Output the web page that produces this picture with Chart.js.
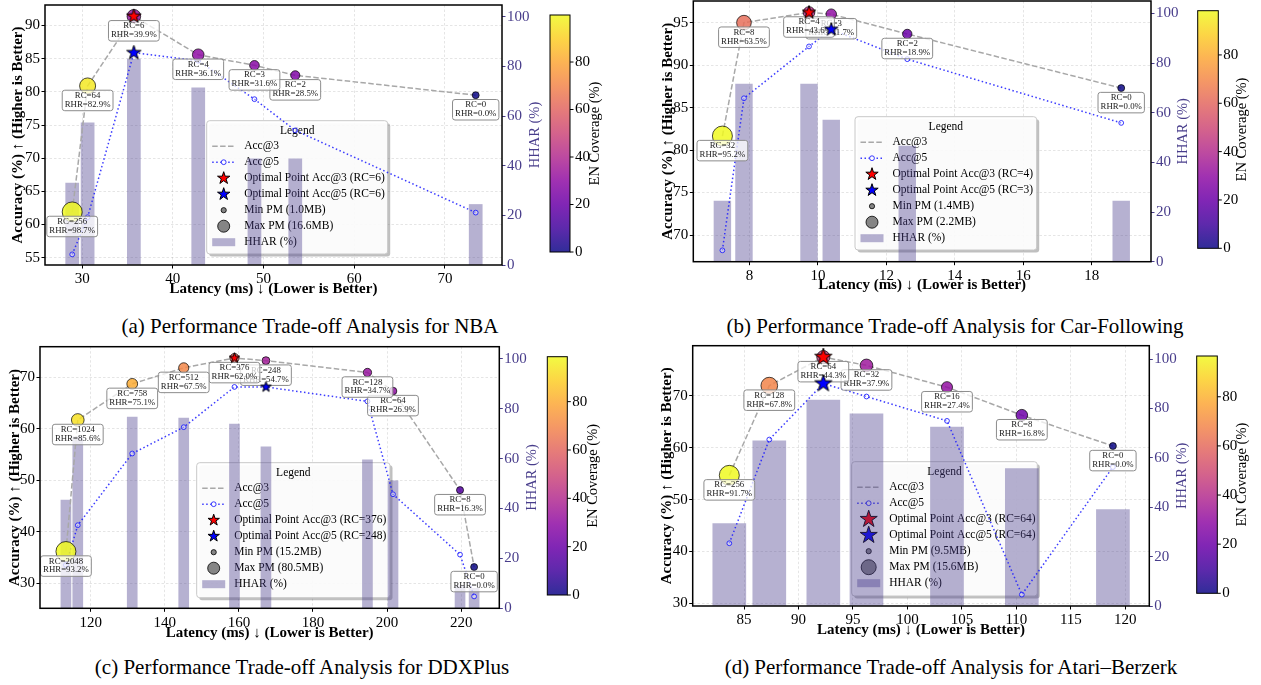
<!DOCTYPE html>
<html>
<head>
<meta charset="utf-8">
<title>Performance Trade-off Analysis</title>
<script src="https://cdn.jsdelivr.net/npm/chart.js@4.4.1/dist/chart.umd.min.js"></script>
<style>
  body { margin: 0; background: #fff; }
  #page { position: relative; width: 1261px; height: 685px; overflow: hidden; font-family: "Liberation Serif", "Times New Roman", serif; }
  canvas { position: absolute; }
  .caption { position: absolute; font-size: 21px; line-height: 24px; white-space: nowrap; transform: translateX(-50%); color: #000; }
</style>
</head>
<body>
<div id="page">
  <canvas id="chartA" width="630" height="310" style="left:0;top:0"></canvas>
  <canvas id="chartB" width="621" height="310" style="left:640px;top:0"></canvas>
  <canvas id="chartC" width="630" height="310" style="left:0;top:340px"></canvas>
  <canvas id="chartD" width="621" height="310" style="left:640px;top:340px"></canvas>
  <div class="caption" style="left:310px;top:314px">(a) Performance Trade-off Analysis for NBA</div>
  <div class="caption" style="left:955px;top:314px">(b) Performance Trade-off Analysis for Car-Following</div>
  <div class="caption" style="left:302px;top:655px">(c) Performance Trade-off Analysis for DDXPlus</div>
  <div class="caption" style="left:951px;top:655px">(d) Performance Trade-off Analysis for Atari–Berzerk</div>
</div>
<script>
const FONT = "'Liberation Serif', 'Times New Roman', serif";
Chart.defaults.font.family = FONT;
Chart.defaults.color = '#000';

// (a) NBA
const nbaRC = [256, 64, 6, 4, 3, 2, 0];
const nbaRHR = [98.7, 82.9, 39.9, 36.1, 31.6, 28.5, 0.0];
const nbaLatency = [28.9, 30.6, 35.7, 42.8, 49.0, 53.5, 73.4];
const nbaAcc3 = [61.9, 80.9, 91.4, 85.6, 84.0, 82.5, 79.5];
const nbaAcc5 = [55.5, 61.1, 85.9, 84.7, 78.9, 74.2, 61.8];
const nbaHHAR = [33, 57.3, 83, 71.4, 42.8, 42.8, 24.4];
const nbaEN = [99.8, 96, 33, 30, 28, 26, 0];
const nbaPM = [16.6, 10.2, 7.1, 4.9, 3.0, 2.6, 1.0];
const nbaXTicks = [30, 40, 50, 60, 70];
const nbaAccTicks = [55, 60, 65, 70, 75, 80, 85, 90];

// (b) Car-Following
const carRC = [32, 8, 4, 3, 2, 0];
const carRHR = [95.2, 63.5, 43.6, 31.7, 18.9, 0.0];
const carLatency = [7.21, 7.84, 9.74, 10.39, 12.61, 18.86];
const carAcc3 = [81.65, 95.0, 96.2, 96.0, 93.67, 87.3];
const carAcc5 = [68.2, 86.1, 92.2, 94.2, 90.7, 83.2];
const carHHAR = [24.4, 71.5, 71.5, 57.0, 46.6, 24.4];
const carEN = [98.3, 62, 42, 30, 20, 0];
const carPM = [2.2, 1.78, 1.6, 1.54, 1.49, 1.4];
const carXTicks = [8, 10, 12, 14, 16, 18];
const carAccTicks = [70, 75, 80, 85, 90, 95];

// (c) DDXPlus
const ddxRC = [2048, 1024, 758, 512, 376, 248, 128, 64, 8, 0];
const ddxRHR = [93.2, 85.6, 75.1, 67.5, 62.0, 54.7, 34.7, 26.9, 16.3, 0.0];
const ddxLatency = [113.3, 116.5, 131.2, 145.1, 158.8, 167.3, 194.7, 201.6, 219.7, 223.5];
const ddxAcc3 = [36.2, 61.7, 68.7, 71.8, 73.7, 73.2, 70.9, 67.3, 48.1, 33.2];
const ddxAcc5 = [33.6, 41.3, 55.2, 60.3, 68.1, 68.1, 65.3, 47.3, 35.6, 27.5];
const ddxHHAR = [43.4, 68.8, 76.7, 76.3, 73.9, 64.7, 59.5, 51.1, 9, 8];
const ddxEN = [98.6, 93, 80, 70, 60, 35, 32, 30, 15, 0];
const ddxPM = [80.5, 36.1, 27.8, 25.5, 22, 17.8, 19.2, 17.2, 15.5, 15.2];
const ddxXTicks = [120, 140, 160, 180, 200, 220];
const ddxAccTicks = [30, 40, 50, 60, 70];

// (d) Atari-Berzerk
const atariRC = [256, 128, 64, 32, 16, 8, 0];
const atariRHR = [91.7, 67.8, 44.3, 37.9, 27.4, 16.8, 0.0];
const atariLatency = [83.65, 87.32, 92.28, 96.24, 103.63, 110.5, 118.86];
const atariAcc3 = [54.7, 72.0, 77.5, 75.9, 71.7, 66.3, 60.35];
const atariAcc5 = [41.6, 61.6, 72.4, 69.9, 65.2, 31.7, 56.3];
const atariHHAR = [33.4, 66.9, 83.4, 77.8, 72.4, 55.6, 39.0];
const atariEN = [96.6, 68, 45, 33, 30, 20, 0];
const atariPM = [15.6, 13.5, 11.65, 11.45, 10.8, 11.0, 9.5];
const atariXTicks = [85, 90, 95, 100, 105, 110, 115, 120];
const atariAccTicks = [30, 40, 50, 60, 70];

const hharTicks = [0, 20, 40, 60, 80, 100];
const enTicks = [0, 20, 40, 60, 80];

const HHAR_COLOR = '#483d8b';
const BAR_FILL = 'rgba(72, 61, 139, 0.4)';
const GRID = 'rgba(0, 0, 0, 0.13)';
const PLASMA = [[13,8,135],[65,4,157],[106,0,168],[143,13,164],[177,42,144],[204,71,120],
                [225,100,98],[242,132,75],[252,166,54],[252,206,37],[240,249,33]];

function plasma(t, a) {
  t = Math.min(1, Math.max(0, t)) * 10;
  const i = Math.min(9, Math.floor(t)), f = t - i;
  const c = PLASMA[i].map((v, k) => Math.round(v + (PLASMA[i + 1][k] - v) * f));
  return 'rgba(' + c.join(',') + ',' + (a === undefined ? 1 : a) + ')';
}

function roundRect(ctx, x, y, w, h, r) {
  ctx.beginPath();
  ctx.moveTo(x + r, y);
  ctx.arcTo(x + w, y, x + w, y + h, r);
  ctx.arcTo(x + w, y + h, x, y + h, r);
  ctx.arcTo(x, y + h, x, y, r);
  ctx.arcTo(x, y, x + w, y, r);
  ctx.closePath();
}

function drawStar(ctx, cx, cy, r, fill) {
  ctx.beginPath();
  for (let k = 0; k < 10; k++) {
    const rr = k % 2 ? r * 0.382 : r;
    const ang = -Math.PI / 2 + k * Math.PI / 5;
    ctx.lineTo(cx + rr * Math.cos(ang), cy + rr * Math.sin(ang));
  }
  ctx.closePath();
  ctx.fillStyle = fill;
  ctx.fill();
  ctx.strokeStyle = '#000';
  ctx.lineWidth = 1;
  ctx.stroke();
}

function starImage(fill, r) {
  const c = document.createElement('canvas');
  c.width = c.height = Math.ceil(2 * r + 6);
  drawStar(c.getContext('2d'), c.width / 2, c.height / 2, r, fill);
  return c;
}

function drawLegend(ctx, d, L) {
  const [x, y, w, h] = L.legend;
  const pmMin = Math.min(...d.pm), pmMax = Math.max(...d.pm);
  ctx.save();
  roundRect(ctx, x + 2.5, y + 2.5, w, h, 3);
  ctx.fillStyle = 'rgba(0,0,0,0.25)';
  ctx.fill();
  roundRect(ctx, x, y, w, h, 3);
  ctx.fillStyle = 'rgba(255,255,255,0.93)';
  ctx.fill();
  ctx.strokeStyle = '#c8c8c8';
  ctx.lineWidth = 1;
  ctx.stroke();

  ctx.font = '11.5px ' + FONT;
  ctx.textBaseline = 'middle';
  ctx.fillStyle = '#000';
  ctx.textAlign = 'center';
  ctx.fillText('Legend', x + w / 2, y + 10);
  ctx.textAlign = 'left';

  const h0 = x + 5.5, h1 = x + 28.5, hc = (h0 + h1) / 2, tx = x + 37.5;
  const labels = ['Acc@3', 'Acc@5',
    'Optimal Point Acc@3 (RC=' + d.rc[d.opt3] + ')',
    'Optimal Point Acc@5 (RC=' + d.rc[d.opt5] + ')',
    'Min PM (' + pmMin.toFixed(1) + 'MB)',
    'Max PM (' + pmMax.toFixed(1) + 'MB)',
    'HHAR (%)'];
  labels.forEach((t, k) => {
    const yy = y + 25.5 + k * 16;
    ctx.fillStyle = '#000';
    ctx.fillText(t, tx, yy);
    ctx.save();
    if (k === 0 || k === 1) {
      ctx.beginPath();
      ctx.moveTo(h0, yy); ctx.lineTo(h1, yy);
      ctx.lineWidth = 1.5;
      ctx.strokeStyle = k === 0 ? '#a8a8a8' : 'rgba(25,25,255,0.85)';
      ctx.setLineDash(k === 0 ? [5.5, 2.4] : [1.5, 2.5]);
      ctx.stroke();
      if (k === 1) {
        ctx.setLineDash([]);
        ctx.beginPath(); ctx.arc(hc, yy, 2.4, 0, Math.PI * 2);
        ctx.fillStyle = '#fff'; ctx.fill(); ctx.lineWidth = 1; ctx.stroke();
      }
    } else if (k === 2 || k === 3) {
      drawStar(ctx, hc, yy, L.legStar, k === 2 ? '#ff0000' : '#0000ff');
    } else if (k === 4 || k === 5) {
      ctx.beginPath(); ctx.arc(hc, yy, k === 4 ? 2.6 : L.legMaxR, 0, Math.PI * 2);
      ctx.fillStyle = 'rgba(120,120,120,0.9)'; ctx.fill();
      ctx.strokeStyle = 'rgba(0,0,0,0.8)'; ctx.lineWidth = 1; ctx.stroke();
    } else {
      ctx.fillStyle = BAR_FILL;
      ctx.fillRect(h0, yy - 4, h1 - h0, 8);
    }
    ctx.restore();
  });
  ctx.restore();
}

// RC/RHR boxes, lowest RC drawn first so higher RC boxes sit on top
function drawNotes(chart, d) {
  const { ctx, scales } = chart;
  ctx.save();
  ctx.font = '8.8px ' + FONT;
  ctx.textAlign = 'center';
  ctx.textBaseline = 'middle';
  for (let i = d.latency.length - 1; i >= 0; i--) {
    const px = scales.x.getPixelForValue(d.latency[i]), py = scales.y.getPixelForValue(d.acc3[i]);
    const l1 = 'RC=' + d.rc[i], l2 = 'RHR=' + d.rhr[i].toFixed(1) + '%';
    const bw = Math.max(ctx.measureText(l1).width, ctx.measureText(l2).width) + 5;
    roundRect(ctx, px - bw / 2, py + 4.3, bw, 20.5, 2.5);
    ctx.fillStyle = 'rgba(255,255,255,0.75)';
    ctx.fill();
    ctx.strokeStyle = '#8c8c8c';
    ctx.lineWidth = 1;
    ctx.stroke();
    ctx.fillStyle = '#222';
    ctx.fillText(l1, px, py + 9.7);
    ctx.fillText(l2, px, py + 18.6);
  }
  ctx.restore();
}

function drawSide(chart, d, L) {
  const { ctx, chartArea: a } = chart;
  ctx.save();
  ctx.font = '14.5px ' + FONT;
  ctx.textAlign = 'center';
  ctx.textBaseline = 'middle';
  ctx.fillStyle = HHAR_COLOR;
  ctx.translate(L.y2TitleX, (a.top + a.bottom) / 2);
  ctx.rotate(-Math.PI / 2);
  ctx.fillText('HHAR (%)', 0, 0);
  ctx.restore();

  // colorbar for EN coverage
  const [x0, x1, y0, y1] = L.cbar;
  const enMax = Math.max(...d.en);
  ctx.save();
  const g = ctx.createLinearGradient(0, y1, 0, y0);
  for (let k = 0; k <= 10; k++) g.addColorStop(k / 10, plasma(k / 10, 0.85));
  ctx.fillStyle = g;
  ctx.fillRect(x0, y0, x1 - x0, y1 - y0);
  ctx.strokeStyle = '#000';
  ctx.lineWidth = 1;
  ctx.strokeRect(x0, y0, x1 - x0, y1 - y0);
  ctx.font = '15px ' + FONT;
  ctx.fillStyle = '#000';
  ctx.textAlign = 'left';
  ctx.textBaseline = 'middle';
  enTicks.forEach(v => {
    const yy = y1 - (y1 - y0) * v / enMax;
    ctx.beginPath(); ctx.moveTo(x1, yy); ctx.lineTo(x1 + 3.5, yy); ctx.stroke();
    ctx.fillText(String(v), x1 + 5, yy);
  });
  ctx.font = '14.5px ' + FONT;
  ctx.textAlign = 'center';
  ctx.translate(L.cbLabelX, (y0 + y1) / 2);
  ctx.rotate(-Math.PI / 2);
  ctx.fillText('EN Coverage (%)', 0, 0);
  ctx.restore();
}

function makePanel(id, d, L) {
  const enMax = Math.max(...d.en);
  const pmMin = Math.min(...d.pm), pmMax = Math.max(...d.pm);
  const radius = d.pm.map(p => Math.sqrt(12 + 88 * (p - pmMin) / (pmMax - pmMin)));
  const pts = ys => d.latency.map((x, i) => ({ x: x, y: ys[i] }));
  const fixedTicks = vals => s => { s.ticks = vals.map(v => ({ value: v })); };
  const gridOpts = { color: GRID, lineWidth: 0.8, tickLength: 3.5, tickColor: '#000', tickWidth: 1, tickBorderDash: [] };

  const chart = new Chart(document.getElementById(id), {
    type: 'line',
    data: {
      datasets: [
        { type: 'bar', yAxisID: 'y2', data: pts(d.hhar), backgroundColor: BAR_FILL, barThickness: 10, order: 6 },
        { type: 'line', data: pts(d.acc3), borderColor: '#a8a8a8', borderWidth: 1.5, borderDash: [5.5, 2.4],
          pointRadius: 0, showLine: true, order: 4 },
        { type: 'line', data: pts(d.acc5), borderColor: 'rgba(25,25,255,0.85)', borderWidth: 1.5, borderDash: [1.5, 2.5],
          pointRadius: 2.4, pointBorderWidth: 1, pointBorderColor: 'rgba(25,25,255,0.85)',
          pointBackgroundColor: 'rgba(255,255,255,0.4)', showLine: true, order: 3 },
        { type: 'scatter', data: pts(d.acc3), pointRadius: radius,
          pointBackgroundColor: d.en.map(e => plasma(e / enMax, 0.85)),
          pointBorderColor: 'rgba(0,0,0,0.7)', pointBorderWidth: 1, clip: false, order: 2 },
        { type: 'scatter', data: [{ x: d.latency[d.opt3], y: d.acc3[d.opt3] }],
          pointStyle: starImage('#ff0000', L.star), clip: false, order: 1 },
        { type: 'scatter', data: [{ x: d.latency[d.opt5], y: d.acc5[d.opt5] }],
          pointStyle: starImage('#0000ff', L.star), clip: false, order: 0 }
      ]
    },
    options: {
      responsive: false,
      animation: false,
      events: [],
      layout: { autoPadding: false, padding: { left: 0, top: L.top, right: L.w - L.right - 45, bottom: 0 } },
      plugins: { legend: { display: false }, tooltip: { enabled: false } },
      scales: {
        x: {
          type: 'linear', position: 'bottom', min: L.xMin, max: L.xMax, offset: false,
          afterBuildTicks: fixedTicks(d.xTicks),
          afterFit: s => { s.height = L.h - L.bottom; s.paddingLeft = 0; s.paddingRight = 0; },
          grid: Object.assign({ offset: false }, gridOpts),
          border: { display: false, dash: [2.5, 2] },
          ticks: { font: { size: 15 }, padding: 2, autoSkip: false, maxRotation: 0 },
          title: { display: true, text: 'Latency (ms) ↓ (Lower is Better)',
                   font: { size: 15, weight: 'bold' }, padding: { top: 0, bottom: L.xTitleP } }
        },
        y: {
          type: 'linear', position: 'left', min: L.yMin, max: L.yMax,
          afterBuildTicks: fixedTicks(d.accTicks),
          afterFit: s => { s.width = L.left; s.paddingTop = 0; s.paddingBottom = 0; },
          grid: gridOpts,
          border: { display: false, dash: [2.5, 2] },
          ticks: { font: { size: 15 }, padding: 1.5, autoSkip: false },
          title: { display: true, text: 'Accuracy (%) ↑ (Higher is Better)',
                   font: { size: 15, weight: 'bold' }, padding: { top: L.yTitleP, bottom: 0 } }
        },
        y2: {
          type: 'linear', position: 'right', min: 0, max: L.y2Max,
          afterBuildTicks: fixedTicks(hharTicks),
          afterFit: s => { s.width = 45; s.paddingTop = 0; s.paddingBottom = 0; },
          grid: { drawOnChartArea: false, tickLength: 3.5, tickColor: HHAR_COLOR, tickWidth: 1, tickBorderDash: [] },
          border: { display: false },
          ticks: { font: { size: 15 }, color: HHAR_COLOR, padding: 1.5, autoSkip: false }
        }
      }
    },
    plugins: [{
      id: 'panelExtras',
      beforeDatasetsDraw(c) { drawLegend(c.ctx, d, L); },
      afterDatasetDraw(c, args) { if (args.index === 3) drawNotes(c, d); },
      afterDatasetsDraw(c) {
        const a = c.chartArea;
        c.ctx.save();
        c.ctx.strokeStyle = '#000';
        c.ctx.lineWidth = 1.5;
        c.ctx.strokeRect(a.left, a.top, a.right - a.left, a.bottom - a.top);
        c.ctx.restore();
      },
      afterDraw(c) { drawSide(c, d, L); }
    }]
  });

  // bar width is given in ms, convert through the x scale
  const xs = chart.scales.x;
  chart.data.datasets[0].barThickness = Math.abs(xs.getPixelForValue(L.barW) - xs.getPixelForValue(0));
  chart.update();
  return chart;
}

makePanel('chartA',
  { rc: nbaRC, rhr: nbaRHR, latency: nbaLatency, acc3: nbaAcc3, acc5: nbaAcc5, hhar: nbaHHAR, en: nbaEN, pm: nbaPM,
    opt3: 2, opt5: 2, xTicks: nbaXTicks, accTicks: nbaAccTicks },
  { w: 630, h: 310, left: 45, right: 502, top: 5, bottom: 265, xMin: 25.9, xMax: 76.3, yMin: 53.9, yMax: 93.1,
    y2Max: 104.8, yTitleP: 9, xTitleP: 12, y2TitleX: 535, legend: [206.7, 120.7, 181, 133.3],
    cbar: [550, 570, 15, 252], cbLabelX: 595, star: 7.5, legStar: 6.5, legMaxR: 6, barW: 1.44 });

makePanel('chartB',
  { rc: carRC, rhr: carRHR, latency: carLatency, acc3: carAcc3, acc5: carAcc5, hhar: carHHAR, en: carEN, pm: carPM,
    opt3: 2, opt5: 3, xTicks: carXTicks, accTicks: carAccTicks },
  { w: 621, h: 310, left: 53.3, right: 511, top: 1, bottom: 261.7, xMin: 6.36, xMax: 19.73, yMin: 66.86, yMax: 97.55,
    y2Max: 105, yTitleP: 19.3, xTitleP: 16, y2TitleX: 542.7, legend: [215, 116.7, 181.7, 133.3],
    cbar: [557.7, 578.3, 10.7, 248.3], cbLabelX: 601.7, star: 7, legStar: 6.5, legMaxR: 6, barW: 0.49 });

makePanel('chartC',
  { rc: ddxRC, rhr: ddxRHR, latency: ddxLatency, acc3: ddxAcc3, acc5: ddxAcc5, hhar: ddxHHAR, en: ddxEN, pm: ddxPM,
    opt3: 4, opt5: 5, xTicks: ddxXTicks, accTicks: ddxAccTicks },
  { w: 630, h: 310, left: 40, right: 499.3, top: 6.7, bottom: 268.3, xMin: 106.3, xMax: 230.3, yMin: 25.2, yMax: 75.9,
    y2Max: 104.9, yTitleP: 6, xTitleP: 7.7, y2TitleX: 531.7, legend: [196.7, 122.7, 193.3, 135],
    cbar: [547.3, 567.3, 16.7, 255], cbLabelX: 593.3, star: 5.5, legStar: 6, legMaxR: 6, barW: 2.7 });

makePanel('chartD',
  { rc: atariRC, rhr: atariRHR, latency: atariLatency, acc3: atariAcc3, acc5: atariAcc5, hhar: atariHHAR, en: atariEN, pm: atariPM,
    opt3: 2, opt5: 2, xTicks: atariXTicks, accTicks: atariAccTicks },
  { w: 621, h: 310, left: 52.7, right: 509.3, top: 5.7, bottom: 266, xMin: 80.29, xMax: 122.2, yMin: 29.5, yMax: 79.7,
    y2Max: 105.4, yTitleP: 18.3, xTitleP: 11, y2TitleX: 541.7, legend: [211.7, 121.7, 185.6, 134.3],
    cbar: [556.7, 577.3, 16, 253.3], cbLabelX: 601.7, star: 9, legStar: 9, legMaxR: 7.5, barW: 3.03 });
</script>
</body>
</html>
